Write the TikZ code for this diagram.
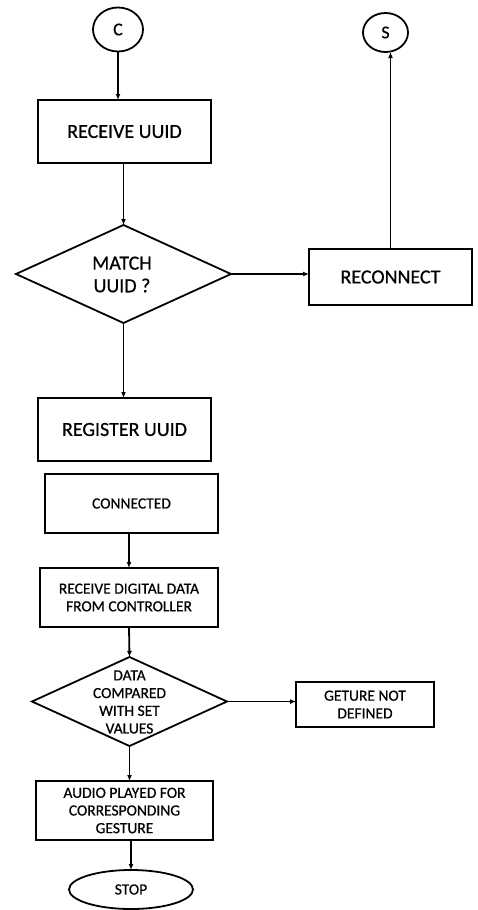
\documentclass[tikz,border=0pt]{standalone}
\usepackage{fontspec}
\setmainfont{Carlito}[FakeBold=0.6]
\usetikzlibrary{shapes.geometric,arrows.meta}
\begin{document}
\begin{tikzpicture}[x=1pt,y=-1pt,
  every node/.style={inner sep=0pt, outer sep=0pt},
  boxnode/.style={draw, line width=1.8pt, rectangle, align=center},
  bigtext/.style={font=\fontsize{20}{22.7}\selectfont, align=center},
  smalltext/.style={font=\fontsize{15.5}{17.7}\selectfont, align=center},
  decision/.style={draw, line width=1.8pt, diamond},
  connector/.style={draw, line width=1.8pt, ellipse},
  flow/.style={line width=1.8pt, -{Latex[length=6pt,width=5pt]}}
]
\useasboundingbox (0,0) rectangle (478,910);

% top connectors
\node[connector, minimum width=50pt, minimum height=44pt, font=\fontsize{18}{20}\selectfont] (C) at (118,29.5) {C};
\node[connector, minimum width=45pt, minimum height=39pt, font=\fontsize{18}{20}\selectfont] (S) at (385.5,32.5) {S};

% boxes
\node[boxnode, minimum width=173pt, minimum height=63pt, bigtext] (recv) at (124.5,131.5) {RECEIVE UUID};
\node[decision, minimum width=215pt, minimum height=98pt] (match) at (123.5,274) {};
\node[bigtext] (matchtext) at (122,274.5) {MATCH\\UUID ?};
\node[boxnode, minimum width=163pt, minimum height=56pt, bigtext] (recon) at (390.5,277) {RECONNECT};
\node[boxnode, minimum width=173pt, minimum height=63pt, bigtext] (reg) at (124.5,429.5) {REGISTER UUID};
\node[boxnode, minimum width=173pt, minimum height=59pt, smalltext] (conn) at (131.5,503.5) {CONNECTED};
\node[boxnode, minimum width=178pt, minimum height=59pt, smalltext] (digital) at (129,597.5) {RECEIVE DIGITAL DATA\\FROM CONTROLLER};
\node[decision, minimum width=195pt, minimum height=89pt] (cmp) at (129.5,701.5) {};
\node[smalltext] (cmptext) at (129.5,702) {DATA\\COMPARED\\WITH SET\\VALUES};
\node[boxnode, minimum width=138pt, minimum height=45pt, smalltext] (geture) at (365,704.5) {GETURE NOT\\DEFINED};
\node[boxnode, minimum width=177pt, minimum height=59pt, smalltext] (audio) at (124.5,810.5) {AUDIO PLAYED FOR\\CORRESPONDING\\GESTURE};
\node[connector, minimum width=124pt, minimum height=39pt, smalltext] (stop) at (131,889.5) {STOP};

% connectors
\draw[flow] (C.south) -- (C.south |- recv.north);
\draw[flow] (match.north |- recv.south) -- (match.north);
\draw[flow] (match.east) -- (match.east -| recon.west);
\draw[flow] (recon.north) -- (recon.north |- S.south);
\draw[flow] (match.south) -- (match.south |- reg.north);
\draw[flow] (digital.north |- conn.south) -- (digital.north);
\draw[flow] (digital.south) -- (cmp.north);
\draw[flow] (cmp.east) -- (cmp.east -| geture.west);
\draw[flow] (cmp.south) -- (cmp.south |- audio.north);
\draw[flow] (stop.north |- audio.south) -- (stop.north);
\end{tikzpicture}
\end{document}
